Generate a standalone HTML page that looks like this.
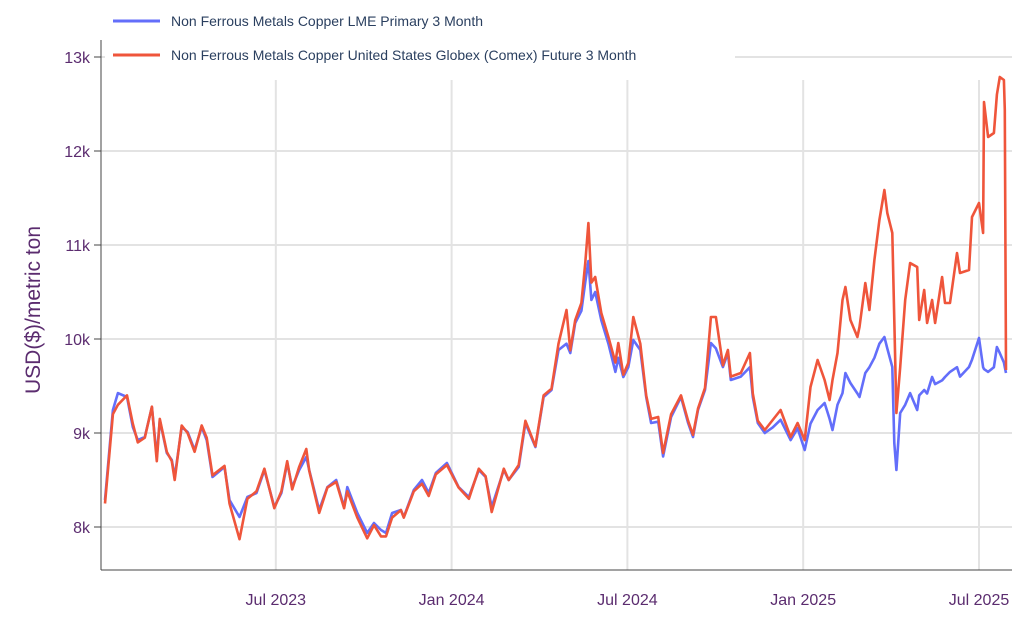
<!DOCTYPE html>
<html><head><meta charset="utf-8"><style>
body{margin:0;background:#fff;}
svg{display:block;font-family:"Liberation Sans",sans-serif;}
</style></head><body>
<svg id="chart" width="1024" height="627">
<g id="grid"></g>
<g id="axes"></g>
<g id="series"></g>
<g>
<rect x="105" y="8" width="630" height="58" fill="#fff"/>
<g>
<line x1="113" y1="21" x2="160" y2="21" stroke="#636efa" stroke-width="3"/>
<text x="171" y="26" font-size="14" fill="#2a3f5f">Non Ferrous Metals Copper LME Primary 3 Month</text>
</g>
<g>
<line x1="113" y1="55" x2="160" y2="55" stroke="#ef553b" stroke-width="3"/>
<text x="171" y="60" font-size="14" fill="#2a3f5f">Non Ferrous Metals Copper United States Globex (Comex) Future 3 Month</text>
</g>
</g>
<text transform="translate(40,310) rotate(-90)" text-anchor="middle" font-size="21" fill="#5b2c6f">USD($)/metric ton</text>
</svg>
<script>
const months=[0.17,0.44,0.61,0.92,1.12,1.29,1.53,1.77,1.94,2.04,2.28,2.45,2.55,2.79,2.99,3.23,3.47,3.64,3.84,4.25,4.42,4.76,5.03,5.34,5.61,5.95,6.19,6.39,6.56,6.80,7.04,7.14,7.48,7.76,8.06,8.33,8.44,8.78,9.12,9.35,9.59,9.76,9.97,10.27,10.37,10.71,10.99,11.22,11.46,11.84,12.24,12.59,12.93,13.16,13.37,13.78,13.95,14.29,14.52,14.86,15.14,15.41,15.65,15.92,16.05,16.22,16.43,16.56,16.67,16.77,16.90,17.11,17.35,17.59,17.69,17.86,18.03,18.20,18.44,18.64,18.81,19.05,19.22,19.49,19.83,20.07,20.24,20.41,20.65,20.85,21.02,21.26,21.43,21.53,21.87,22.18,22.28,22.45,22.69,22.96,23.23,23.57,23.81,24.05,24.25,24.49,24.73,24.90,25.00,25.17,25.34,25.44,25.61,25.85,25.92,26.12,26.26,26.43,26.60,26.77,26.87,27.04,27.11,27.18,27.31,27.48,27.65,27.89,27.96,28.13,28.23,28.40,28.50,28.74,28.84,29.01,29.25,29.35,29.66,29.76,30.00,30.14,30.17,30.31,30.51,30.61,30.71,30.85,30.88,30.92];
const lme=[8287,9245,9425,9383,9064,8925,8957,9277,8745,9138,8787,8713,8532,9064,9011,8819,9064,8925,8532,8638,8287,8106,8319,8362,8606,8213,8362,8681,8425,8606,8745,8606,8181,8425,8500,8213,8425,8149,7936,8043,7968,7936,8149,8181,8106,8394,8500,8362,8574,8681,8425,8319,8606,8532,8213,8606,8500,8638,9106,8851,9383,9457,9883,9950,9851,10170,10300,10600,10830,10415,10500,10200,9950,9650,9800,9596,9700,9989,9883,9383,9106,9120,8750,9170,9383,9106,8957,9245,9457,9957,9900,9702,9850,9564,9600,9700,9383,9106,9000,9060,9140,8925,9050,8819,9100,9245,9319,9150,9032,9300,9425,9638,9532,9420,9383,9638,9700,9800,9950,10021,9900,9702,8894,8606,9213,9300,9425,9245,9400,9457,9420,9596,9520,9560,9596,9650,9700,9600,9702,9780,10011,9700,9680,9650,9700,9915,9850,9750,9700,9638];
const comex=[8250,9200,9300,9400,9100,8900,8950,9280,8700,9150,8800,8700,8500,9080,9000,8800,9080,8950,8550,8650,8250,7870,8300,8380,8620,8200,8380,8700,8400,8640,8830,8600,8150,8420,8480,8200,8380,8100,7880,8020,7900,7900,8100,8180,8100,8380,8460,8330,8560,8660,8420,8300,8620,8540,8160,8620,8500,8660,9130,8860,9400,9470,9950,10309,9880,10200,10383,10800,11234,10600,10660,10277,10021,9750,9957,9620,9745,10234,9950,9400,9150,9170,8787,9200,9400,9130,8980,9260,9480,10234,10234,9720,9883,9600,9638,9851,9420,9130,9032,9138,9245,8957,9106,8925,9489,9777,9564,9351,9564,9851,10415,10553,10202,10021,10128,10596,10309,10840,11266,11585,11340,11128,10200,9213,9700,10415,10809,10766,10202,10521,10170,10415,10170,10660,10383,10383,10915,10702,10734,11298,11447,11128,12521,12149,12191,12600,12787,12755,12436,9670];
const yTicks=[8000,9000,10000,11000,12000,13000];
const yTickLabels=["8k","9k","10k","11k","12k","13k"];
const xTicks=[6,12,18,24,30];
const xTickLabels=["Jul 2023","Jan 2024","Jul 2024","Jan 2025","Jul 2025"];

const NS="http://www.w3.org/2000/svg";
const xS=m=>100+m*29.3;
const yS=v=>527-(v-8000)*0.094;
function mk(tag,attrs,parent){const e=document.createElementNS(NS,tag);for(const k in attrs)e.setAttribute(k,attrs[k]);parent.appendChild(e);return e;}
const grid=document.getElementById('grid'),axes=document.getElementById('axes'),series=document.getElementById('series');
yTicks.forEach((v,i)=>{
 const g=mk('line',{x1:101,x2:1012,y1:yS(v),y2:yS(v),stroke:'#e3e3e3','stroke-width':2},grid);
 
 
 const t=mk('line',{x1:94,x2:101,y1:yS(v),y2:yS(v),stroke:'#444','stroke-width':1},axes);
 
 
 const l=mk('text',{x:90,y:yS(v)+6,'text-anchor':'end','font-size':16,fill:'#5b2c6f'},axes);
 l.textContent=yTickLabels[i];
 
 
});
xTicks.forEach((m,i)=>{
 const g=mk('line',{x1:xS(m),x2:xS(m),y1:80,y2:570,stroke:'#e3e3e3','stroke-width':2},grid);
 
 
 const l=mk('text',{x:xS(m),y:605,'text-anchor':'middle','font-size':16,fill:'#5b2c6f'},axes);
 l.textContent=xTickLabels[i];
 
 
});
const ya=mk('line',{x1:101,x2:101,y1:40,y2:570,stroke:'#444','stroke-width':1},axes);


const xa=mk('line',{x1:101,x2:1012,y1:570,y2:570,stroke:'#444','stroke-width':1},axes);


function path(vals,color,name){
 const d=vals.map((v,i)=>(i?'L':'M')+xS(months[i]).toFixed(1)+','+yS(v).toFixed(1)).join('');
 const p=mk('path',{d:d,fill:'none',stroke:color,'stroke-width':2.6,'stroke-linejoin':'round'},series);
 
 
}
path(lme,'#636efa','lme-line');
path(comex,'#ef553b','comex-line');
</script>
</body></html>
